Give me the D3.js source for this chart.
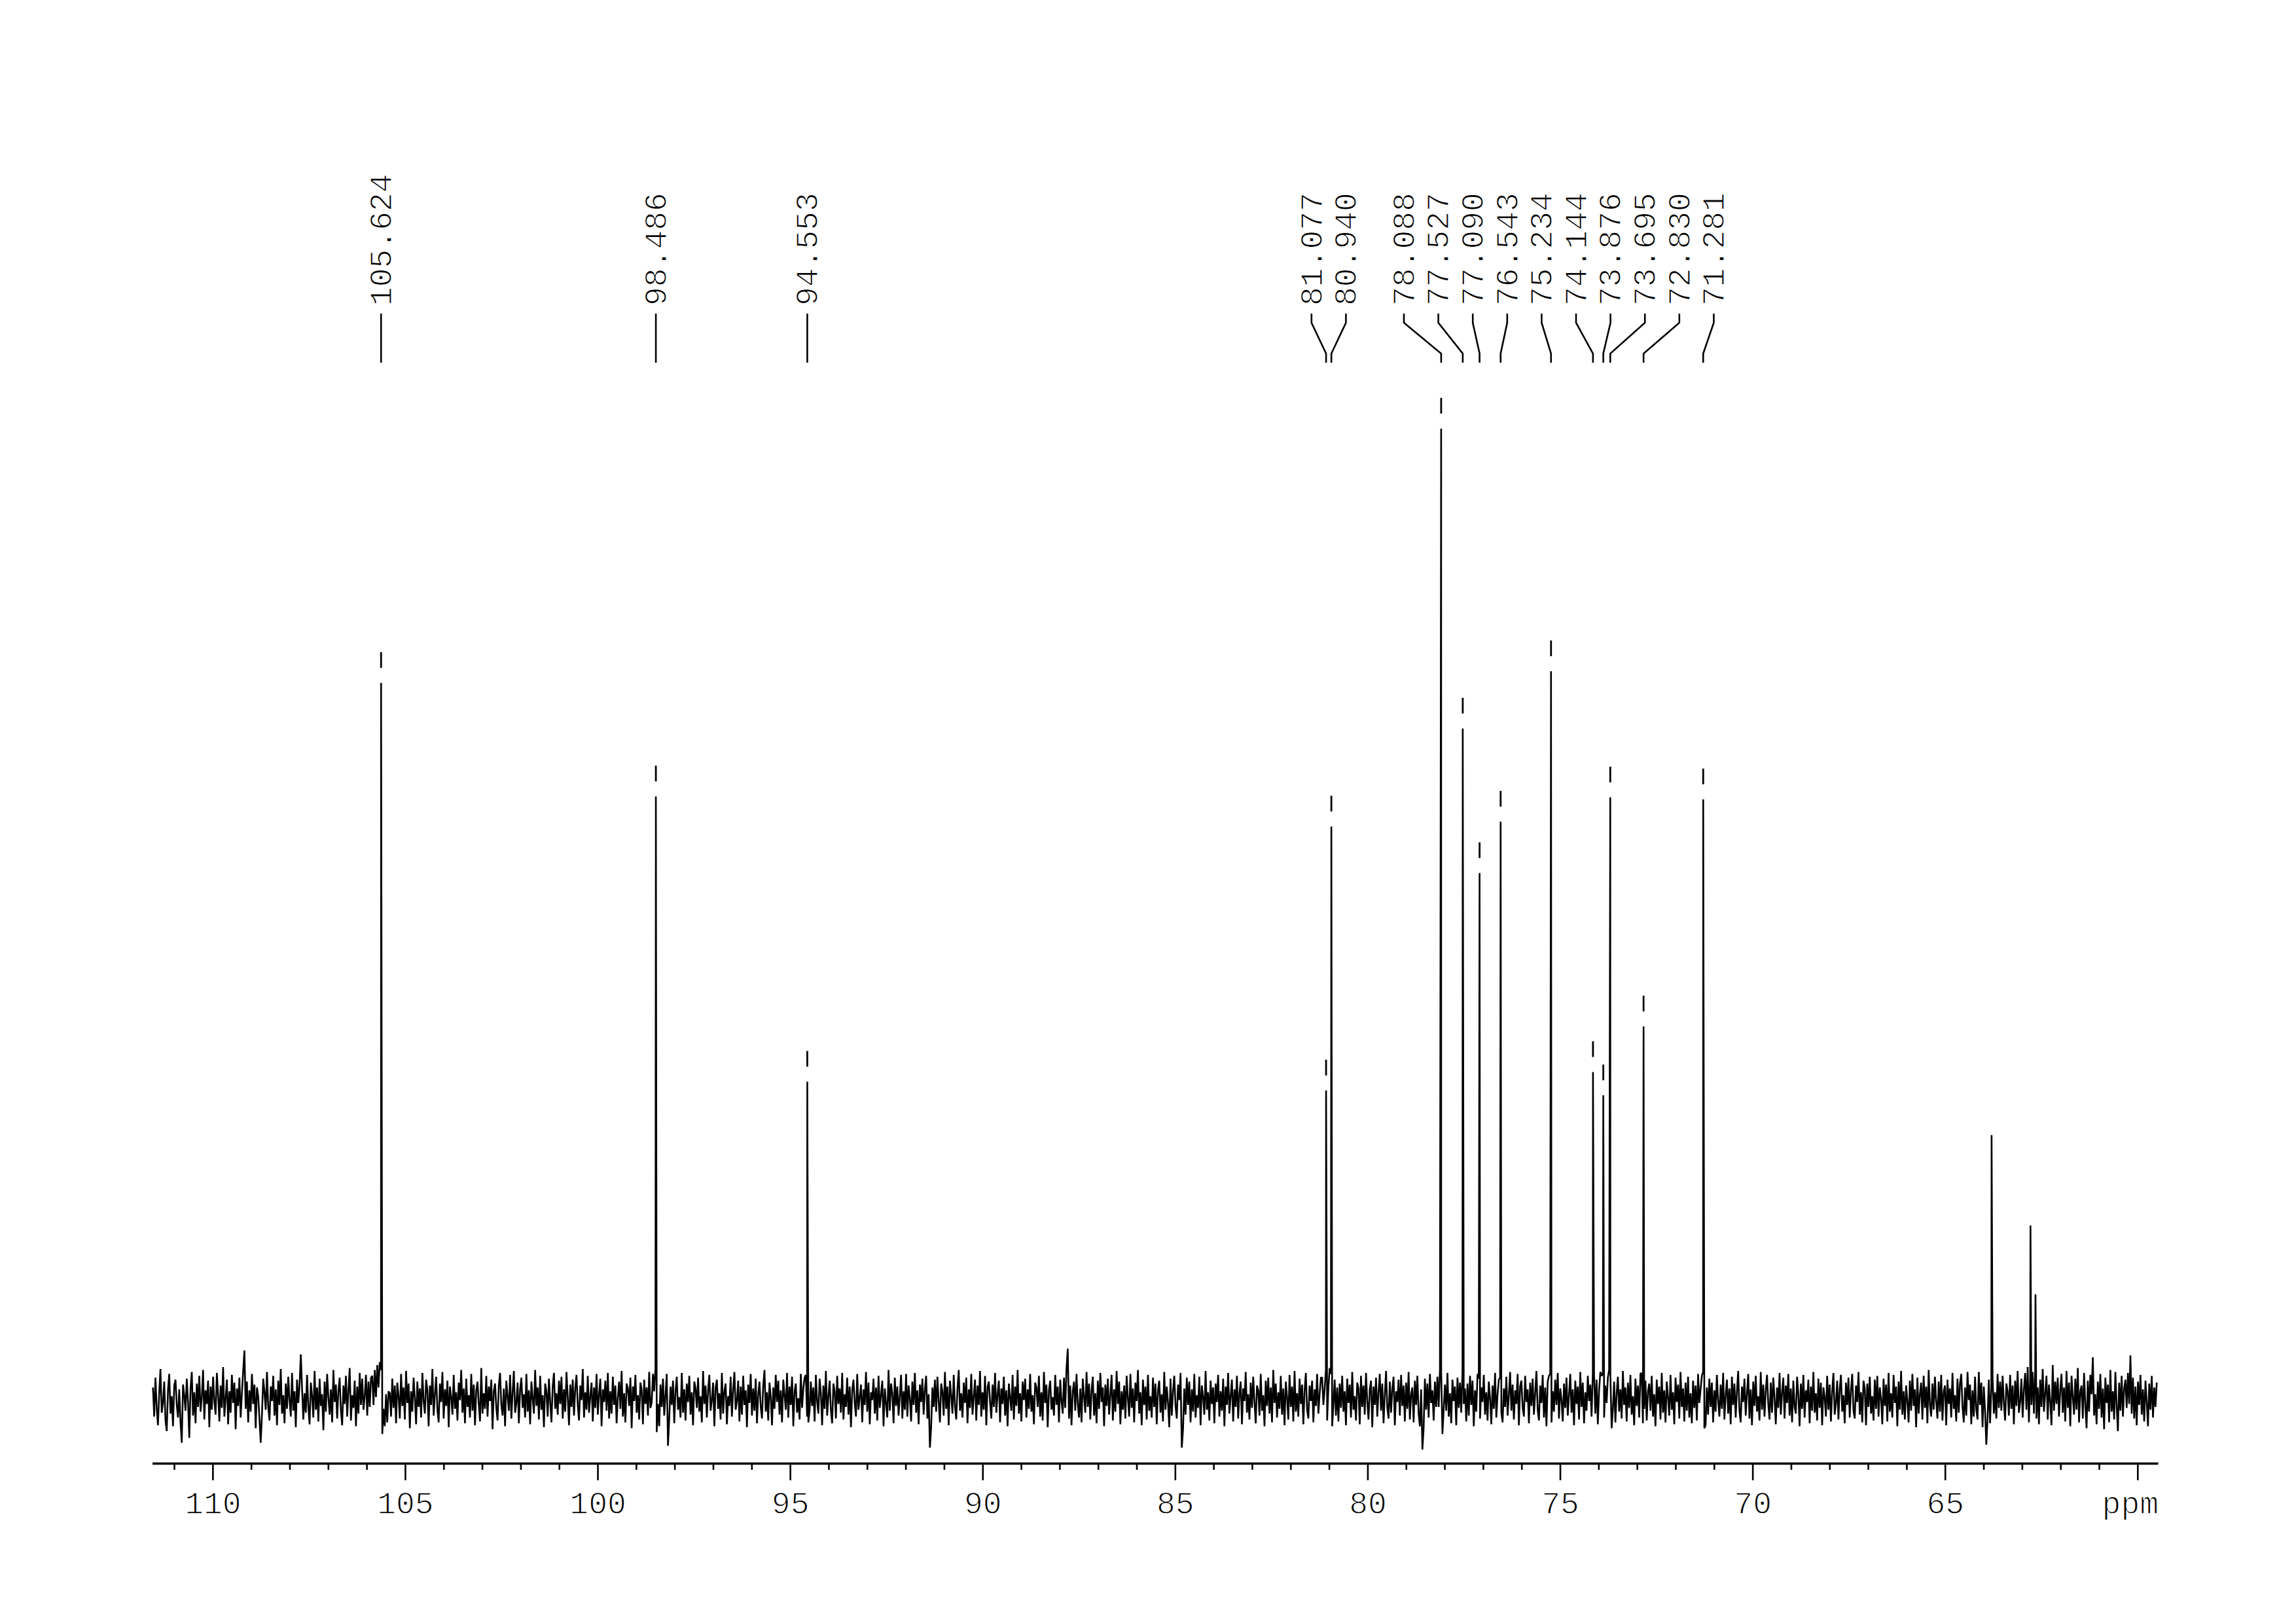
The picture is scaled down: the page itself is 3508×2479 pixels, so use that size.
<!DOCTYPE html>
<html>
<head>
<meta charset="utf-8">
<script src="https://cdn.jsdelivr.net/npm/d3@7"></script>
<style>
html,body{margin:0;padding:0;background:#fff;}
svg{display:block;}
</style>
</head>
<body>
<svg id="chart" width="3508" height="2479"></svg>
<script>
// ---------------- data ----------------
const peakPpm = [105.624, 98.486, 94.553, 81.077, 80.940, 78.088, 77.527, 77.090, 76.543, 75.234, 74.144, 73.876, 73.695, 72.830, 71.281];
const peakLabels = ["105.624", "98.486", "94.553", "81.077", "80.940", "78.088", "77.527", "77.090", "76.543", "75.234", "74.144", "73.876", "73.695", "72.830", "71.281"];
const peakHeight = [738, 621, 327, 318, 590, 1000, 691, 542, 595, 750, 337, 313, 620, 384, 618];

const extraPpm = [63.79, 62.78, 62.65];
const extraHeight = [272, 179, 108];

const noiseStartPpm = 111.55;
const noiseEndPpm = 59.50;
const noise = [
12,-18,22,-9,-27,6,31,-14,-4,18,-22,-33,9,26,-15,3,-28,14,20,-6,-19,10,-24,-45,15,
4,-12,21,-3,-40,11,28,-17,7,-25,16,-8,24,-13,2,30,-21,9,-5,19,-29,13,-11,23,-2,
-16,27,5,-23,14,-9,33,-18,1,20,-26,8,-14,25,-4,17,-31,11,-7,22,-19,6,29,50,-10,
18,-24,9,-13,26,-5,15,-30,12,3,-20,-45,-16,21,7,-11,28,-8,-22,13,-2,24,-17,10,-27,
19,-6,31,-15,4,-25,16,-10,23,-1,-18,27,-12,8,-29,20,-4,14,46,11,-21,6,-14,25,-8,
-26,17,3,-19,29,-11,12,-23,21,-7,5,-32,18,-13,26,2,-16,10,-24,30,-3,15,-20,8,22,
-12,-27,14,-5,24,-18,9,32,-22,4,-9,19,-28,13,-15,27,-6,21,-11,3,25,-17,18,-8,22,
24,-6,30,2,35,12,38,30,-36,-10,-28,5,-24,8,6,-18,21,-9,14,-25,17,3,-20,26,-7,
12,-21,29,-4,16,-30,8,-13,22,1,-26,18,-8,11,-19,27,-2,-15,20,9,-28,14,-6,31,-17,
5,23,-11,-24,16,-3,28,-20,10,-7,19,-29,13,2,-16,25,-10,7,-22,17,-1,30,-14,11,-25,
21,-8,4,-19,26,-12,15,-27,9,18,-5,-23,32,-15,6,-10,24,-18,13,-2,20,-31,8,16,-9,
-22,14,27,-6,-17,11,-28,19,3,-12,25,-20,7,29,-14,-4,17,-25,10,22,-9,5,-19,26,-13,
9,-26,18,1,-15,30,-7,12,-21,24,-11,4,-29,16,8,-18,21,-3,-24,13,27,-10,6,-16,19,
-5,23,-20,10,-13,28,2,-27,15,-8,20,-17,11,25,-6,-22,14,-1,31,-19,7,-11,24,-14,3,
17,-23,12,-9,26,-16,5,21,-28,10,-3,19,-12,27,-20,8,-15,23,-6,14,-25,2,18,-10,29,
-18,6,-24,16,11,-7,22,-30,13,-2,25,-14,4,-21,17,9,-26,20,-5,12,-17,28,-9,-4,26,
8,32,-34,-5,-28,15,-8,21,-17,4,26,-48,-20,13,-6,19,-25,8,23,-11,2,-19,27,-14,10,
-22,16,-3,24,-16,7,-27,18,11,-9,22,-13,3,-24,29,-5,14,-19,9,25,-12,-1,17,-28,12,
20,-10,6,-21,27,-15,8,16,-26,3,-7,23,-18,10,28,-11,-2,19,-23,13,-16,24,-6,9,-29,
15,-4,26,-17,11,-12,21,-25,5,18,-8,-20,14,30,-13,7,-22,17,2,-27,12,-10,25,-3,19,
-16,9,-24,20,4,-11,27,-19,13,-6,23,-28,8,16,-14,1,-21,26,-9,11,22,25,-18,-24,-12,
18,-7,12,-23,25,-2,-15,21,6,-27,14,-10,29,-17,3,19,-12,-25,16,8,-20,24,-5,11,-14,
27,-21,5,-8,22,-16,13,-29,9,20,-4,-18,26,-11,2,15,-24,10,-6,28,-13,17,-26,7,-1,
21,-15,12,-22,24,-9,4,19,-28,11,-5,-19,30,-12,16,6,-25,22,-7,13,-17,3,25,-20,8,
-11,26,-18,14,1,-23,18,-6,27,-14,9,-26,15,-3,21,-16,10,24,-20,5,-50,-29,12,-8,20,
-13,23,-2,-24,16,8,-17,28,-10,13,-27,19,4,-15,25,-7,-21,11,30,-12,6,-19,17,-4,22,
-25,10,-9,26,-16,3,20,-22,14,-6,29,-18,7,-11,24,-27,12,18,-3,-20,15,-8,27,-14,5,
19,-24,11,-5,23,-17,9,-28,16,2,-12,25,-21,13,-7,30,-15,6,-23,18,-1,21,-19,10,-10,
26,-13,4,-26,17,12,-8,24,-18,7,-22,28,-4,15,-29,9,19,-11,2,-17,25,-6,13,-24,20,
-2,-15,22,-9,31,52,-20,14,-27,8,18,-12,26,-5,-19,11,-24,21,3,-14,28,-8,16,-21,9,
23,-17,6,-25,19,-10,27,-3,12,-28,15,-7,21,-16,4,25,-22,10,-13,29,-5,18,-26,8,-11,
14,-20,24,1,-18,26,-9,11,-24,17,-2,30,-15,7,-27,20,-6,13,-21,25,-12,3,-19,22,-8,
16,-26,9,19,-14,5,-23,28,-11,13,-4,-29,21,-17,8,24,-7,-20,15,-1,27,-50,-31,11,-16,
22,-6,18,-24,10,-13,26,-19,4,-9,23,-27,14,2,-16,29,-11,7,-22,19,-5,12,-25,16,-3,
25,-18,8,-12,21,-28,13,-6,27,-15,3,20,-23,10,-8,24,-20,6,18,-26,11,-2,28,-14,5,
-21,17,-9,23,-3,-25,14,9,-17,26,-12,4,-28,19,-7,22,-15,12,-24,30,-4,16,-19,7,-10,
24,-16,11,-27,18,2,-21,25,-8,13,-23,29,-13,6,-18,21,-5,15,-26,9,27,-11,-20,14,-2,
19,-24,10,-7,26,-15,5,22,22,-6,10,30,-22,12,32,26,-28,-6,20,-17,12,-23,16,-9,24,
-13,8,-27,21,-4,15,-19,28,-11,3,-22,17,11,-26,24,-8,14,-16,27,-2,-21,10,19,-29,13,
-6,22,-18,7,26,-12,16,-25,4,29,-9,-20,18,-14,11,23,-27,8,-3,20,-17,25,-7,14,-23,
17,-10,28,-21,5,12,-24,19,-6,24,-15,-28,10,-52,-30,21,-11,16,-19,26,-4,9,-22,18,-8,
23,-8,30,28,-36,-10,15,-12,27,-18,6,-25,20,-2,13,-27,22,-9,17,-14,29,-5,11,-23,16,
-17,24,-6,19,-28,9,-13,26,21,-20,12,-3,25,-16,7,-22,18,1,-26,14,-10,27,-19,5,20,
22,-14,-24,11,-8,23,-17,4,28,-12,15,-21,9,-5,26,-27,13,19,-9,-18,24,-3,10,-25,17,
-7,21,-16,6,29,-11,-22,14,-4,25,-19,12,-28,18,24,26,-24,8,-13,20,-6,27,-20,11,-1,
-23,16,-9,22,-17,4,26,-14,10,-27,19,-5,13,-21,28,-8,17,-25,7,-12,24,-2,15,-18,27,
25,-15,20,-26,9,28,24,26,-19,14,-4,22,30,25,-30,-11,18,-24,6,23,-13,10,-20,29,-6,
12,-23,17,-9,25,-16,3,-27,21,-7,14,-19,26,27,-25,-10,19,-22,8,16,-12,24,-18,5,-28,
20,-5,13,-21,27,-14,9,-24,18,2,-17,25,-11,7,-26,22,-3,15,-20,28,-8,11,-23,17,-12,
23,-19,6,-25,19,-9,14,-22,26,-4,10,24,28,-30,-27,12,-16,21,-8,17,-24,9,-13,25,-2,
-18,15,-10,27,-21,4,20,-15,11,-26,23,-6,16,-19,8,29,-12,-24,13,-3,21,-17,6,26,-20,
10,-27,18,-7,24,-13,3,-22,28,-11,15,-18,9,25,-5,-21,17,-14,22,1,-26,12,-9,27,-16,
7,22,-20,14,-4,26,-17,11,-24,19,-8,-15,23,5,-28,16,-10,25,-19,9,-3,20,-25,13,-12,
28,-14,6,-22,21,-9,17,-27,12,2,-18,24,-11,15,-23,8,27,-16,-5,19,-21,10,25,-13,4,
-25,17,-6,22,-19,9,26,-12,-20,14,-3,28,-16,7,-24,19,11,-27,16,-8,23,-15,3,-22,20,
-10,24,-18,12,1,-26,21,-7,15,-23,27,-13,6,-19,25,-4,13,-28,18,-11,29,-16,8,-21,14,
-2,-24,19,-12,26,-7,10,-29,22,-15,5,17,-21,24,-9,13,-25,30,-6,-18,16,-11,23,-3,-20,
18,-13,25,-22,8,14,-27,20,-5,11,-19,27,-10,4,-23,21,-14,16,26,-8,-24,12,-17,28,-1,
15,-26,9,-18,23,-11,-21,28,-6,17,-29,13,-12,-47,-20,20,-25,11,22,-15,7,-20,26,-9,18,
-12,24,-4,-22,16,8,-17,25,-10,14,-26,19,-7,29,-14,-3,21,-19,10,27,-11,33,-24,22,-6,
28,-15,30,-20,12,-26,20,-8,31,-13,6,24,-21,15,-2,-27,35,-12,18,-5,22,-18,9,26,-14,
12,-23,29,-9,17,-28,24,3,-16,21,-11,32,-24,8,14,-20,27,-6,-30,19,-13,25,5,43,-17,
5,-26,18,-10,26,-19,11,-31,22,-4,15,-24,30,-13,8,-21,28,-7,-33,17,-12,24,-18,11,20,
-9,27,-5,45,-15,22,-20,13,-27,18,-6,25,-16,10,-23,19,-3,-28,16,-11,24,-19,12,-8,17
];

const majorTicks = [110, 105, 100, 95, 90, 85, 80, 75, 70, 65, 60];
const tickLabels = ["110", "105", "100", "95", "90", "85", "80", "75", "70", "65", ""];
const minorTicks = [111,109,108,107,106,104,103,102,101,99,98,97,96,94,93,92,91,89,88,87,86,84,83,82,81,79,78,77,76,74,73,72,71,69,68,67,66,64,63,62,61];
const unitLabel = "ppm";

// ---------------- layout ----------------
const svg = d3.select("#chart");
svg.append("rect").attr("width", 3508).attr("height", 2479).attr("fill", "#fff");

const FONT = "'Liberation Mono', 'DejaVu Sans Mono', monospace";
const TEXT_ERODE = 1.3;
const axisY = 2235;
const x = d3.scaleLinear().domain([111.57, 59.47]).range([232.5, 3297]);
const y = d3.scaleLinear().domain([0, 1000]).range([2137, 654.7]);

// spectrum points: noise grid + peak tops
const step = (noiseStartPpm - noiseEndPpm) / (noise.length - 1);
const pts = noise.map((v, i) => ({ppm: noiseStartPpm - i * step, v}));
peakPpm.forEach((p, i) => pts.push({ppm: p, v: peakHeight[i]}));
extraPpm.forEach((p, i) => pts.push({ppm: p, v: extraHeight[i]}));
pts.sort((a, b) => b.ppm - a.ppm);

const line = d3.line().x(d => x(d.ppm)).y(d => y(d.v));
svg.append("path")
  .datum(pts)
  .attr("d", line)
  .attr("fill", "none")
  .attr("stroke", "#000")
  .attr("stroke-width", 2.6)
  .attr("stroke-linejoin", "miter")
  .attr("stroke-miterlimit", 2);

// peak-pick markers above each labelled peak
svg.append("g").selectAll("line")
  .data(peakPpm)
  .join("line")
  .attr("x1", d => x(d)).attr("x2", d => x(d))
  .attr("y1", (d, i) => y(peakHeight[i]) - 47)
  .attr("y2", (d, i) => y(peakHeight[i]) - 23)
  .attr("stroke", "#000")
  .attr("stroke-width", 2.8);

// label spreading (clusters centred on their peaks)
const gap = 52.6;
let clusters = peakPpm.map((p, i) => ({members: [{i, px: x(p)}]}))
  .sort((a, b) => a.members[0].px - b.members[0].px);
function place(c) {
  const m = d3.mean(c.members, d => d.px);
  c.start = m - (c.members.length - 1) / 2 * gap;
  c.end = c.start + (c.members.length - 1) * gap;
}
clusters.forEach(place);
let merged = true;
while (merged) {
  merged = false;
  for (let k = 0; k < clusters.length - 1; k++) {
    if (clusters[k].end + gap > clusters[k + 1].start + 0.01) {
      clusters[k].members = clusters[k].members.concat(clusters[k + 1].members);
      clusters.splice(k + 1, 1);
      place(clusters[k]);
      merged = true;
      break;
    }
  }
}
const labelX = new Array(peakPpm.length);
clusters.forEach(c => c.members.forEach((m, j) => { labelX[m.i] = c.start + j * gap; }));

const lab = svg.append("g");
lab.selectAll("path")
  .data(peakPpm)
  .join("path")
  .attr("d", (d, i) => `M${labelX[i]},479V493L${x(d)},540V554`)
  .attr("fill", "none")
  .attr("stroke", "#000")
  .attr("stroke-width", 2.6);

lab.selectAll("text")
  .data(peakLabels)
  .join("text")
  .attr("transform", (d, i) => `translate(${labelX[i]},467) rotate(-90)`)
  .attr("dy", "0.33em")
  .attr("text-anchor", "start")
  .attr("font-family", FONT)
  .attr("font-size", 48)
  .attr("fill", "#000")
  .attr("stroke", "#fff")
  .attr("stroke-width", TEXT_ERODE)
  .text(d => d);

// ---------------- axis ----------------
const axisG = svg.append("g").attr("transform", `translate(0,${axisY})`);
axisG.call(d3.axisBottom(x).tickValues(majorTicks).tickSize(26).tickSizeOuter(0)
  .tickFormat((d, i) => tickLabels[i]));
axisG.attr("font-family", FONT).attr("font-size", 48);
axisG.select(".domain").attr("stroke-width", 3.3);
axisG.selectAll(".tick line").attr("stroke-width", 2.6);
axisG.selectAll(".tick text").attr("y", 77).attr("dy", null).attr("fill", "#000")
  .attr("stroke", "#fff").attr("stroke-width", TEXT_ERODE);

const minorG = svg.append("g").attr("transform", `translate(0,${axisY})`);
minorG.call(d3.axisBottom(x).tickValues(minorTicks).tickSize(10).tickFormat(""));
minorG.select(".domain").remove();
minorG.selectAll(".tick line").attr("stroke-width", 2.6);

svg.append("text")
  .attr("x", 3298).attr("y", axisY + 77)
  .attr("text-anchor", "end")
  .attr("font-family", FONT)
  .attr("font-size", 48)
  .attr("fill", "#000")
  .attr("stroke", "#fff")
  .attr("stroke-width", TEXT_ERODE)
  .text(unitLabel);
</script>
</body>
</html>
